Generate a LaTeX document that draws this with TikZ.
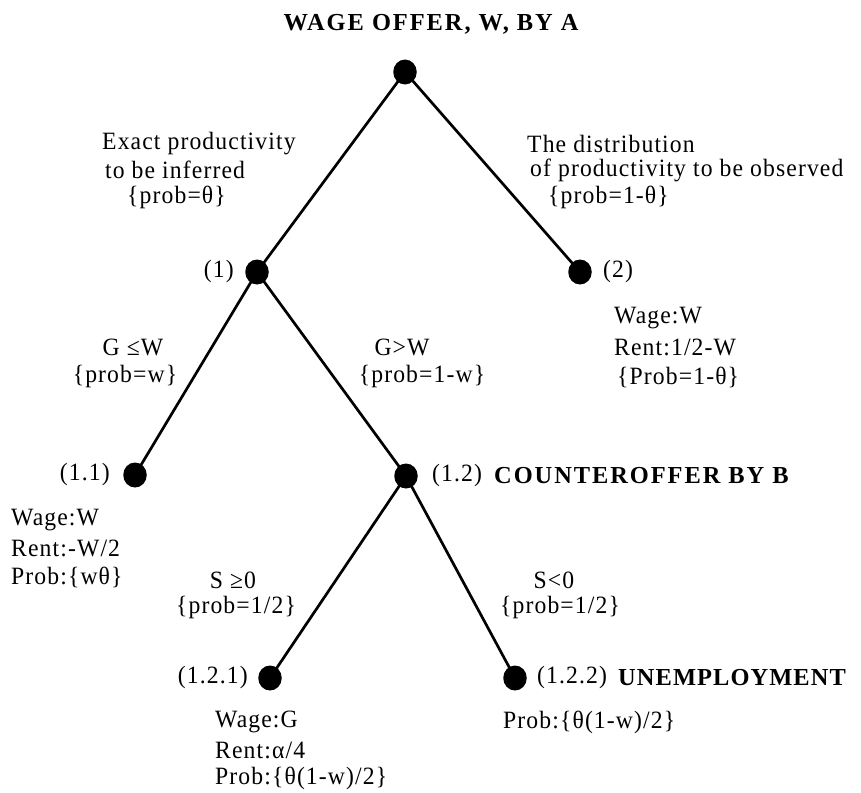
\documentclass[tikz,border=0pt]{standalone}
\usepackage{fontspec}
\usetikzlibrary{shapes.geometric}
\setmainfont[LetterSpace=4.5,FakeStretch=0.95]{Liberation Serif}
\newfontfamily\hdfont[LetterSpace=8]{Liberation Serif}
\newfontfamily\hdfontb[LetterSpace=4.5]{Liberation Serif}
\begin{document}
\begin{tikzpicture}[x=1bp,y=-1bp,
  font=\fontsize{25}{27}\selectfont,
  dot/.style={ellipse,fill=black,inner sep=0pt,minimum width=23.5bp,minimum height=25bp},
  edge/.style={line width=2.7bp},
  lbl/.style={inner sep=0pt},
  hd/.style={inner sep=0pt,font=\fontsize{24.5}{27}\selectfont\hdfont\bfseries},
  hdb/.style={inner sep=0pt,font=\fontsize{24.5}{27}\selectfont\hdfontb\bfseries}]
\useasboundingbox (0,0) rectangle (861,793);
% title
\node[hd] (title) at (431,24) {WAGE OFFER, W, BY A};
% dots
\node[dot] (r) at (405,72) {};
\node[dot] (n1) at (257,272) {};
\node[dot] (n2) at (580,272) {};
\node[dot] (n11) at (135,475) {};
\node[dot] (n12) at (406,476) {};
\node[dot] (n121) at (270,678) {};
\node[dot] (n122) at (515,678) {};
% edges
\draw[edge] (r.center) -- (n1.center);
\draw[edge] (r.center) -- (n2.center);
\draw[edge] (n1.center) -- (n11.center);
\draw[edge] (n1.center) -- (n12.center);
\draw[edge] (n12.center) -- (n121.center);
\draw[edge] (n12.center) -- (n122.center);
% branch labels level 1
\node[lbl,anchor=west] (la1) at (102,144) {Exact productivity};
\node[lbl,anchor=west] (la2) at (105,170) {to be inferred};
\node[lbl,anchor=west] (la3) at (127,197) {\{prob=θ\}};
\node[lbl,anchor=west] (ra1) at (527,144) {The distribution};
\node[lbl,anchor=west] (ra2) at (530,170) {of productivity to be observed};
\node[lbl,anchor=west] (ra3) at (548,197) {\{prob=1-θ\}};
% node labels level 1
\node[lbl,anchor=east] (t1) at (234,272) {(1)};
\node[lbl,anchor=west] (t2) at (603,272) {(2)};
\node[lbl,anchor=west] (p2a) at (614,318) {Wage:W};
\node[lbl,anchor=west] (p2b) at (614,347) {Rent:1/2-W};
\node[lbl,anchor=west] (p2c) at (617,377) {\{Prob=1-θ\}};
% branch labels level 2
\node[lbl] (lb1) at (133,347) {G ≤W};
\node[lbl] (lb2) at (125,377) {\{prob=w\}};
\node[lbl] (rb1) at (402,347) {G>W};
\node[lbl] (rb2) at (422,377) {\{prob=1-w\}};
% level 2 node labels
\node[lbl,anchor=east] (t11) at (110,475) {(1.1)};
\node[lbl,anchor=west] (t12) at (432,476) {(1.2)};
\node[hd,anchor=west] (cb) at (494,476) {COUNTEROFFER BY B};
\node[lbl,anchor=west] (p11a) at (11,520) {Wage:W};
\node[lbl,anchor=west] (p11b) at (11,548) {Rent:-W/2};
\node[lbl,anchor=west] (p11c) at (11,577) {Prob:\{wθ\}};
% branch labels level 3
\node[lbl] (lc1) at (233,580) {S ≥0};
\node[lbl] (lc2) at (236,608) {\{prob=1/2\}};
\node[lbl] (rc1) at (554,580) {S<0};
\node[lbl] (rc2) at (560,608) {\{prob=1/2\}};
% level 3 node labels
\node[lbl,anchor=east] (t121) at (248,678) {(1.2.1)};
\node[lbl,anchor=west] (t122) at (537,678) {(1.2.2)};
\node[hdb,anchor=west] (un) at (618,678) {UNEMPLOYMENT};
\node[lbl,anchor=west] (p121a) at (215,722) {Wage:G};
\node[lbl,anchor=west] (p121b) at (215,750) {Rent:α/4};
\node[lbl,anchor=west] (p121c) at (215,778) {Prob:\{θ(1-w)/2\}};
\node[lbl,anchor=west] (p122) at (503,722) {Prob:\{θ(1-w)/2\}};
\end{tikzpicture}
\end{document}
